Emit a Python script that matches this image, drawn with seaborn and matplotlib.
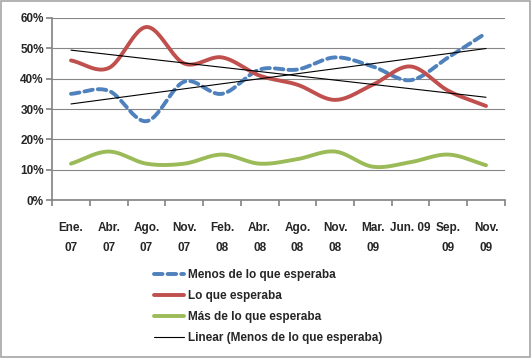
import matplotlib
matplotlib.use("Agg")
import matplotlib.pyplot as plt
import matplotlib.patches as mpatches
from matplotlib import font_manager
from matplotlib.lines import Line2D
import numpy as np
import pandas as pd
import seaborn as sns

categories = ["Ene.\n07", "Abr.\n07", "Ago.\n07", "Nov.\n07", "Feb.\n08", "Abr.\n08",
              "Ago.\n08", "Nov.\n08", "Mar.\n09", "Jun. 09\n", "Sep.\n09", "Nov.\n09"]
menos = [35, 36, 26, 39, 35, 43, 43, 47, 44, 39.5, 47, 55]
lo_que = [46, 43.5, 57, 45, 47, 41, 38, 33, 38, 44, 36, 31]
mas = [12, 16, 12, 12, 15, 12, 13.5, 16, 11, 12.5, 15, 11.5]

series_names = ["Menos de lo que esperaba", "Lo que esperaba", "Más de lo que esperaba"]
colors = ["#4F81BD", "#C0504D", "#9BBB59"]

sns.set_theme(style="white")
installed = {f.name for f in font_manager.fontManager.ttflist}
fam = [f for f in ["Liberation Sans Narrow", "DejaVu Sans Condensed", "Liberation Sans"] if f in installed]
plt.rcParams["font.family"] = fam + ["DejaVu Sans"]
plt.rcParams["font.weight"] = "bold"


def smooth(y, n=24):
    # Catmull-Rom spline, close to Excel's smoothed line
    y = np.asarray(y, float)
    x = np.arange(len(y), dtype=float)
    p = np.concatenate([[2 * y[0] - y[1]], y, [2 * y[-1] - y[-2]]])
    xs, ys = [], []
    for i in range(len(y) - 1):
        t = np.linspace(0, 1, n, endpoint=False)
        p0, p1, p2, p3 = p[i], p[i + 1], p[i + 2], p[i + 3]
        yy = 0.5 * ((2 * p1) + (-p0 + p2) * t + (2 * p0 - 5 * p1 + 4 * p2 - p3) * t ** 2
                    + (-p0 + 3 * p1 - 3 * p2 + p3) * t ** 3)
        xs.append(x[i] + t)
        ys.append(yy)
    xs.append([x[-1]])
    ys.append([y[-1]])
    return np.concatenate(xs), np.concatenate(ys)


rows = []
for name, vals in zip(series_names, [menos, lo_que, mas]):
    sx, sy = smooth(vals)
    rows.append(pd.DataFrame({"x": sx, "y": sy / 100, "serie": name}))
df = pd.concat(rows, ignore_index=True)

fig = plt.figure(figsize=(5.32, 3.58), dpi=100)
ax = fig.add_axes([0.098, 0.441, 0.851, 0.509])

dash = (0, (2.2, 1.3))
for name, c in zip(series_names, colors):
    d = df[df.serie == name]
    sns.lineplot(data=d, x="x", y="y", ax=ax, color=c, lw=2.8,
                 linestyle=dash if name == series_names[0] else "-",
                 solid_capstyle="round", dash_capstyle="round", legend=False)

# linear trendlines
xi = np.arange(len(categories))
for vals in [menos, lo_que]:
    k, b = np.polyfit(xi, vals, 1)
    ax.plot(xi, (k * xi + b) / 100, color="black", lw=0.8)

fs = 8.5
ax.set_xlim(-0.5, len(categories) - 0.5)
ax.set_ylim(0, 0.6)
ax.set_yticks(np.arange(0, 0.61, 0.1))
ax.set_yticklabels([f"{int(v)}%" for v in np.arange(0, 61, 10)], fontsize=fs, fontweight="bold")
ax.yaxis.grid(True, color="#868686", lw=0.8)
ax.set_xticks(np.arange(-0.5, len(categories), 1))
ax.set_xticklabels([])
ax.set_xticks(xi, minor=True)
ax.set_xticklabels(categories, minor=True, fontsize=fs, fontweight="bold", linespacing=1.85)
ax.tick_params(axis="x", which="major", length=4, color="#868686", direction="out", bottom=True)
ax.tick_params(axis="x", which="minor", length=0, pad=16)
ax.tick_params(axis="y", length=4, color="#868686", direction="out", left=True, pad=2)
for s in ["top", "right"]:
    ax.spines[s].set_visible(False)
ax.spines["left"].set_color("#868686")
ax.spines["bottom"].set_color("#868686")
ax.set_xlabel("")
ax.set_ylabel("")

handles = [
    Line2D([], [], color=colors[0], lw=2.8, linestyle=dash, dash_capstyle="round"),
    Line2D([], [], color=colors[1], lw=2.8),
    Line2D([], [], color=colors[2], lw=2.8),
    Line2D([], [], color="black", lw=0.8),
]
labels = series_names + ["Linear (Menos de lo que esperaba)"]
fig.legend(handles, labels, loc="upper left", bbox_to_anchor=(0.278, 0.264), frameon=False,
           prop={"size": fs, "weight": "bold"}, handlelength=2.6, handletextpad=0.3,
           labelspacing=0.75, borderpad=0)

fig.patches.append(mpatches.Rectangle((0.002, 0.003), 0.995, 0.994, transform=fig.transFigure,
                                      fill=False, edgecolor="#A6A6A6", lw=1.2))

fig.savefig("out.png", dpi=100)
